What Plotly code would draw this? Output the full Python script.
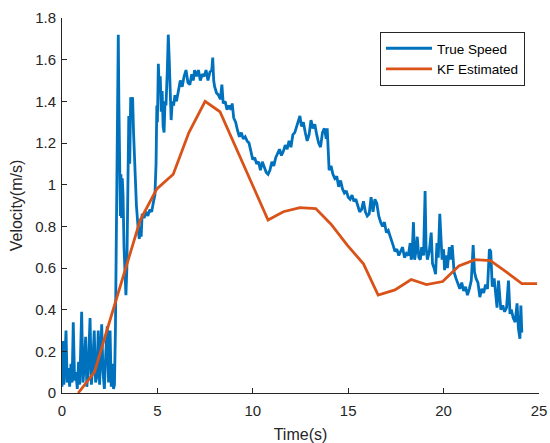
import plotly.graph_objects as go

# ---- data ----
true_t = [0.00,0.05,0.10,0.16,0.21,0.27,0.33,0.40,0.47,0.53,0.59,0.66,0.73,0.80,0.87,0.93,
          1.03,1.10,1.16,1.24,1.30,1.37,1.47,1.54,1.60,1.69,1.76,1.83,1.90,1.97,
          2.08,2.15,2.22,2.30,2.37,2.44,2.52,2.58,2.64,2.70,2.75,
          2.80,2.85,2.90,2.95,2.98,3.00,3.03,3.06,3.09,3.12,3.16,3.20,3.25,3.30,3.35,3.40,3.45,3.50,3.55,3.60,
          3.65,3.70,3.75,3.82,3.90,4.00,4.05,4.10,4.15,4.20,4.30,4.40,4.50,4.60,4.70,4.80,4.87,4.93,4.97,5.00,
          5.05,5.10,5.15,5.20,5.25,5.30,5.35,5.40,5.45,5.52,5.57,5.62,5.67,5.72,5.78,5.85,5.92,6.00,6.10,6.20,
          6.30,6.40,6.50,6.55,6.60,6.70,6.80,6.88,6.95,7.05,7.15,7.25,7.35,7.45,7.55,7.65,7.75,7.85,7.90,7.95,
          8.00,8.10,8.20,8.30,8.38,8.45,8.55,8.65,8.75,8.85,8.92,9.00,9.10,9.20,9.30,9.40,9.50,9.60,9.70,9.80,
          9.90,10.00,10.10,10.20,10.30,10.40,10.50,10.60,10.70,10.80,10.90,11.00,11.10,11.20,11.30,11.40,11.50,
          11.60,11.70,11.80,11.90,12.00,12.10,12.20,12.30,12.40,12.47,12.55,12.65,12.75,12.85,12.95,13.05,13.15,
          13.25,13.35,13.45,13.55,13.65,13.75,13.85,13.90,13.95,14.00,14.10,14.20,14.30,14.40,14.50,14.60,14.70,
          14.80,14.90,15.00,15.10,15.20,15.30,15.40,15.50,15.60,15.70,15.80,15.90,16.00,16.10,16.20,16.30,16.40,
          16.50,16.60,16.70,16.80,16.90,17.00,17.10,17.25,17.35,17.45,17.55,17.65,17.75,17.85,17.95,18.05,18.15,
          18.25,18.30,18.35,18.42,18.48,18.55,18.62,18.70,18.78,18.85,18.95,19.03,19.08,19.15,19.25,19.35,19.42,
          19.50,19.58,19.65,19.72,19.80,19.86,19.92,20.00,20.05,20.12,20.20,20.30,20.38,20.45,20.55,20.65,20.75,
          20.85,20.95,21.05,21.15,21.25,21.35,21.45,21.55,21.62,21.70,21.80,21.90,22.00,22.10,22.20,22.30,22.40,
          22.47,22.55,22.65,22.72,22.80,22.88,22.95,23.00,23.10,23.20,23.30,23.40,23.48,23.55,23.65,23.75,23.85,
          23.92,24.00,24.05,24.10]
true_v = [0.03,0.25,0.04,0.21,0.30,0.05,0.12,0.03,0.14,0.05,0.34,0.06,0.10,0.02,0.15,0.04,
          0.39,0.05,0.12,0.27,0.03,0.10,0.36,0.04,0.12,0.30,0.05,0.08,0.30,0.04,
          0.33,0.10,0.02,0.20,0.32,0.05,0.30,0.03,0.14,0.02,0.04,
          0.30,0.90,1.55,1.72,1.40,1.15,1.26,0.85,1.05,0.84,1.03,0.95,0.70,0.55,0.47,0.60,1.00,1.33,1.10,1.42,
          1.38,1.42,1.25,1.05,0.90,0.78,0.74,0.80,0.75,0.86,0.84,0.87,0.85,0.88,0.87,0.92,0.95,1.10,1.38,1.30,
          1.58,1.45,1.52,1.35,1.45,1.28,1.25,1.40,1.38,1.55,1.72,1.60,1.45,1.31,1.40,1.38,1.43,1.40,1.45,1.50,
          1.47,1.52,1.55,1.52,1.49,1.48,1.53,1.50,1.55,1.52,1.55,1.50,1.53,1.52,1.55,1.50,1.54,1.55,1.61,1.50,
          1.47,1.44,1.43,1.41,1.48,1.39,1.40,1.36,1.38,1.36,1.39,1.32,1.30,1.26,1.23,1.25,1.22,1.23,1.21,1.20,
          1.16,1.12,1.13,1.10,1.11,1.07,1.11,1.08,1.06,1.05,1.07,1.11,1.09,1.13,1.15,1.17,1.14,
          1.16,1.19,1.17,1.21,1.18,1.24,1.25,1.28,1.31,1.33,1.28,1.30,1.25,1.21,1.24,1.31,1.27,
          1.29,1.24,1.20,1.18,1.25,1.27,1.22,1.27,1.12,1.07,1.09,1.05,1.03,1.04,0.99,1.02,0.98,
          0.96,0.97,0.94,0.93,0.95,0.92,0.93,0.90,0.87,0.88,0.92,0.87,0.85,0.86,0.94,0.87,0.93,
          0.91,0.85,0.82,0.80,0.82,0.77,0.78,0.73,0.71,0.68,0.69,0.66,0.68,0.70,0.65,0.67,0.66,
          0.72,0.64,0.66,0.82,0.64,0.68,0.75,0.65,0.64,0.70,0.66,0.97,0.70,0.64,0.68,0.77,0.62,
          0.60,0.57,0.72,0.65,0.86,0.70,0.64,0.69,0.59,0.66,0.60,0.70,0.64,0.71,0.58,0.55,0.52,
          0.50,0.53,0.49,0.51,0.47,0.50,0.54,0.71,0.58,0.55,0.53,0.46,0.50,0.48,0.52,0.50,0.69,
          0.68,0.51,0.55,0.48,0.41,0.54,0.47,0.40,0.42,0.39,0.41,0.54,0.38,0.40,0.36,0.34,0.43,
          0.31,0.26,0.42,0.29]

kf_t = [0.85,1.70,2.55,3.40,4.10,4.97,5.83,6.65,7.50,8.28,9.10,9.95,10.80,11.60,12.47,13.30,14.10,14.95,
        15.80,16.57,17.45,18.30,19.10,19.95,20.80,21.65,22.45,23.30,24.10,24.90]
kf_v = [0.00,0.10,0.36,0.62,0.83,0.98,1.05,1.25,1.40,1.35,1.18,1.00,0.83,0.87,0.89,0.885,0.81,0.71,
        0.62,0.47,0.495,0.545,0.52,0.535,0.61,0.64,0.635,0.58,0.525,0.525]

x_ticks = [0, 5, 10, 15, 20, 25]
y_ticks = [0, 0.2, 0.4, 0.6, 0.8, 1, 1.2, 1.4, 1.6, 1.8]
y_tick_text = ["0", "0.2", "0.4", "0.6", "0.8", "1", "1.2", "1.4", "1.6", "1.8"]

FONT = "Liberation Sans, Arial, Helvetica, sans-serif"
AX = "#262626"

fig = go.Figure()
fig.add_trace(go.Scatter(x=true_t, y=true_v, mode="lines", name="True Speed",
                         line=dict(color="#0072BD", width=2.8)))
fig.add_trace(go.Scatter(x=kf_t, y=kf_v, mode="lines", name="KF Estimated",
                         line=dict(color="#D95319", width=2.8)))

fig.update_layout(
    template="none",
    width=550, height=443,
    margin=dict(l=62, r=11, t=18, b=50, pad=0),
    paper_bgcolor="white", plot_bgcolor="white",
    font=dict(family=FONT, color=AX, size=15),
    showlegend=True,
    legend=dict(x=0.9706, y=0.9627, xanchor="right", yanchor="top",
                bgcolor="white", bordercolor=AX, borderwidth=1,
                itemwidth=46,
                font=dict(size=13.5, color="black"), tracegroupgap=0),
    xaxis=dict(range=[0, 25], tickvals=x_ticks, ticks="inside", ticklen=5, tickcolor=AX,
               showline=True, linecolor=AX, linewidth=1, showgrid=False, zeroline=False,
               automargin=False, ticklabelstandoff=4,
               tickfont=dict(size=15, color=AX),
               title=dict(text="Time(s)", font=dict(size=16, color=AX), standoff=12)),
    yaxis=dict(range=[0, 1.8], tickvals=y_ticks, ticktext=y_tick_text, ticks="inside", ticklen=5,
               tickcolor=AX, showline=True, linecolor=AX, linewidth=1, showgrid=False, zeroline=False,
               automargin=False, ticklabelstandoff=2,
               tickfont=dict(size=15, color=AX),
               title=dict(text="Velocity(m/s)", font=dict(size=16, color=AX), standoff=8)),
)

fig.write_html("out.html")
